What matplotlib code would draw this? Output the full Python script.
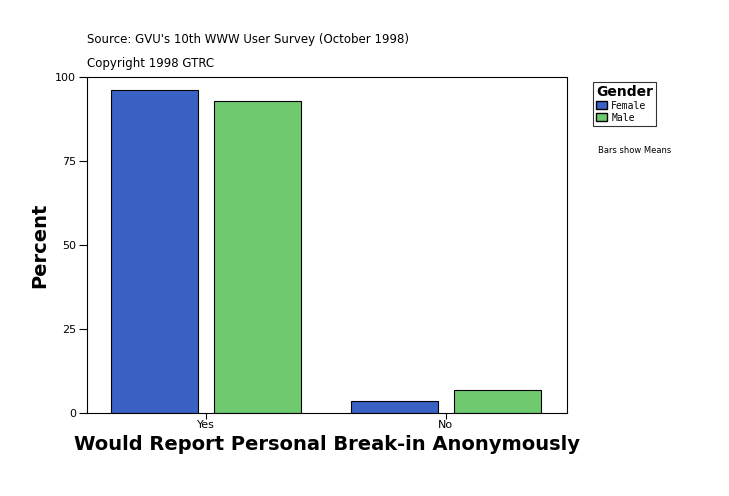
import matplotlib
matplotlib.use('Agg')
import matplotlib.pyplot as plt
import numpy as np
from matplotlib.patches import Patch

categories = ['Yes', 'No']
female = [96.2, 3.6]
male = [92.9, 6.8]
yticks = [0, 25, 50, 75, 100]

fig = plt.figure(figsize=(7.29, 4.96), dpi=100)
ax = fig.add_axes([87/729, 1-413/496, 480/729, 336/496])

x = np.arange(len(categories))
w = 0.3625
ax.bar(x - 0.2125, female, w, color='#3a62c4', edgecolor='black', linewidth=0.8)
ax.bar(x + 0.215, male, w, color='#6fca6f', edgecolor='black', linewidth=0.8)

ax.set_xlim(-0.494, 1.506)
ax.set_ylim(0, 100)
ax.set_yticks(yticks)
ax.set_yticklabels([str(t) for t in yticks], fontsize=8)
ax.set_xticks(x)
ax.set_xticklabels(categories, fontsize=8)
ax.tick_params(axis='y', direction='out', length=6, pad=2)
ax.tick_params(axis='x', direction='out', length=4, pad=1)
for s in ax.spines.values():
    s.set_linewidth(0.8)

ax.set_ylabel('Percent', fontsize=14, fontweight='bold', labelpad=4)
ax.set_xlabel('Would Report Personal Break-in Anonymously', fontsize=14, fontweight='bold', labelpad=4)

fig.text(87/729, 1-40/496, "Source: GVU's 10th WWW User Survey (October 1998)", fontsize=8.5, va='center')
fig.text(87/729, 1-64/496, "Copyright 1998 GTRC", fontsize=8.5, va='center')

handles = [Patch(facecolor='#3a62c4', edgecolor='black', label='Female'),
           Patch(facecolor='#6fca6f', edgecolor='black', label='Male')]
leg = fig.legend(handles=handles, title='Gender', loc='upper left',
                 bbox_to_anchor=(588/729, 1-77/496), fancybox=False,
                 edgecolor='black', handlelength=1.2, handleheight=0.9,
                 borderpad=0.3, labelspacing=0.2, handletextpad=0.4,
                 prop={'family': 'DejaVu Sans Mono', 'size': 7})
leg._legend_box.align = 'left'
leg.get_title().set_fontweight('bold')
leg.get_title().set_fontsize(10)
leg.get_frame().set_linewidth(0.8)
fig.text(598/729, 1-150/496, 'Bars show Means', fontsize=6, va='center')

fig.savefig('out.png', dpi=100)
